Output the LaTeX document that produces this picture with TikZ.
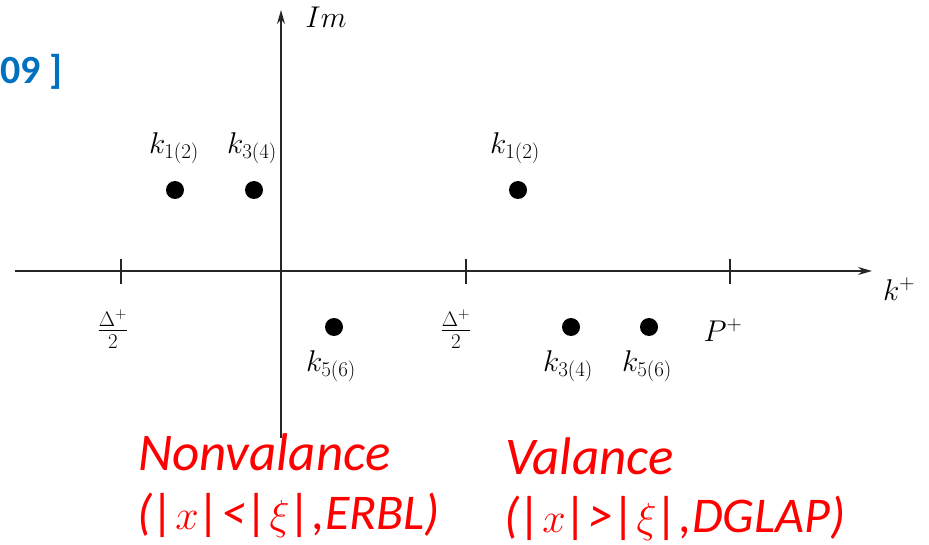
\documentclass[tikz,border=0pt]{standalone}
\usepackage{fix-cm}
\usepackage{fontspec}
\newfontfamily\calib{Carlito}
\usetikzlibrary{arrows.meta}
\definecolor{hdrblue}{RGB}{0,112,192}
\definecolor{redtxt}{RGB}{255,0,0}
\newcommand{\smallmath}[1]{{\fontsize{42}{48}\selectfont$#1$}}
\begin{document}
\begin{tikzpicture}[x=1pt,y=-1pt,
  axis/.style={line width=1.6pt,draw=black!85,-{Stealth[length=14pt,width=8pt]}},
  tickmark/.style={line width=1.6pt,draw=black!85},
  dotnode/.style={circle,fill=black,inner sep=0pt,minimum size=18pt},
  lbl/.style={font=\fontsize{30}{34}\selectfont,inner sep=0pt},
  redlbl/.style={font=\calib\itshape\fontsize{53}{60}\selectfont,text=redtxt,inner sep=0pt,anchor=west},
  redlbltwo/.style={font=\calib\itshape\fontsize{50}{56}\selectfont,text=redtxt,inner sep=0pt,anchor=west},
]
\useasboundingbox (0,0) rectangle (929,545);
% axes
\coordinate (xl) at (15,271);
\coordinate (xr) at (872,271);
\coordinate (yb) at (281,438);
\coordinate (yt) at (281,10);
\draw[axis] (xl) -- (xr);
\draw[axis] (yb) -- (yt);
% ticks
\coordinate (t1a) at (121,259); \coordinate (t1b) at (121,284);
\coordinate (t2a) at (466,259); \coordinate (t2b) at (466,284);
\coordinate (t3a) at (730,259); \coordinate (t3b) at (730,284);
\draw[tickmark] (t1a) -- (t1b);
\draw[tickmark] (t2a) -- (t2b);
\draw[tickmark] (t3a) -- (t3b);
% axis labels
\node[lbl] (im) at (326,17) {$Im$};
\node[lbl] (kp) at (899,289) {$k^{+}$};
\node[lbl] (pp) at (723,330) {$P^{+}$};
\node[lbl] (d1) at (113,329) {$\frac{\Delta^{+}}{2}$};
\node[lbl] (d2) at (456,329) {$\frac{\Delta^{+}}{2}$};
% dots
\node[dotnode] (p1) at (175,190) {};
\node[dotnode] (p2) at (254,190) {};
\node[dotnode] (p3) at (518,190) {};
\node[dotnode] (p4) at (334,327) {};
\node[dotnode] (p5) at (571,327) {};
\node[dotnode] (p6) at (649,327) {};
% dot labels
\node[lbl] (l1) at (174,148) {$k_{1(2)}$};
\node[lbl] (l2) at (252,148) {$k_{3(4)}$};
\node[lbl] (l3) at (515,148) {$k_{1(2)}$};
\node[lbl] (l4) at (331,366) {$k_{5(6)}$};
\node[lbl] (l5) at (568,366) {$k_{3(4)}$};
\node[lbl] (l6) at (647,366) {$k_{5(6)}$};
% header fragment
\node[font=\calib\bfseries\fontsize{40}{44}\selectfont,text=hdrblue,inner sep=0pt,anchor=west] (hdr) at (0,72) {09 ]};
% red annotations
\node[redlbl] (nv) at (138,452) {Nonvalance};
\node[redlbltwo] (nv2) at (137,515) {(|\smallmath{x}|<|\smallmath{\xi}|,ERBL)};
\node[redlbl] (va) at (505,456) {Valance};
\node[redlbltwo] (va2) at (504,518) {(|\smallmath{x}|>|\smallmath{\xi}|,DGLAP)};
\end{tikzpicture}
\end{document}
